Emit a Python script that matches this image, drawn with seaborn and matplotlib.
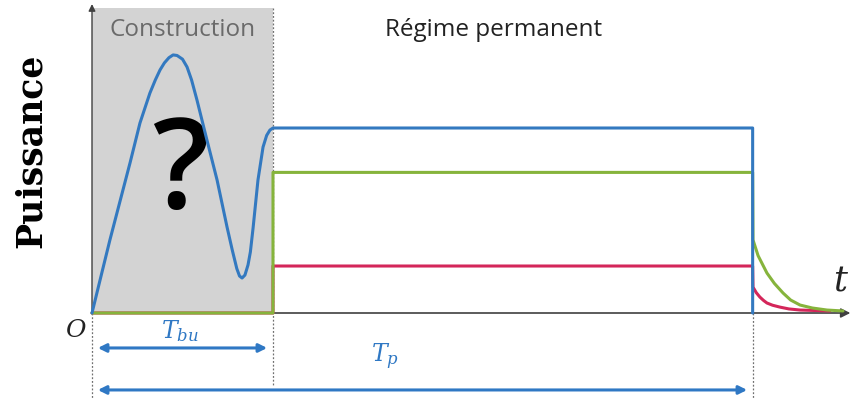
import numpy as np
import pandas as pd
import matplotlib.pyplot as plt
import seaborn as sns

# --- data (time in units of T_bu, power in units of the blue steady level) ---
T_BU = 1.0
T_P = 3.65

levels = {"bleu": 1.0, "vert": 0.76, "rouge": 0.254}
colors = {"bleu": "#3379c0", "vert": "#86b43c", "rouge": "#d4265a"}

# blue curve during build-up
build_t = [0.0, 0.05, 0.099, 0.155, 0.21, 0.265, 0.32, 0.35, 0.376, 0.40, 0.425, 0.448, 0.47,
           0.50, 0.525, 0.55, 0.58, 0.635, 0.691, 0.746, 0.775, 0.80, 0.815, 0.829, 0.845,
           0.862, 0.875, 0.89, 0.917, 0.945, 0.965, 0.983, 1.0]
build_p = [0.0, 0.20, 0.395, 0.605, 0.811, 1.027, 1.189, 1.26, 1.314, 1.352, 1.380, 1.395, 1.392,
           1.372, 1.330, 1.26, 1.151, 0.935, 0.719, 0.465, 0.34, 0.24, 0.20, 0.189, 0.205,
           0.26, 0.33, 0.46, 0.719, 0.897, 0.96, 0.989, 1.0]

# decay after T_p
vert_decay_t = [3.652, 3.68, 3.729, 3.77, 3.818, 3.86, 3.912, 3.98, 4.061, 4.149]
vert_decay_p = [0.395, 0.31, 0.216, 0.16, 0.108, 0.07, 0.043, 0.027, 0.016, 0.011]
rouge_decay_t = [3.652, 3.67, 3.69, 3.71, 3.729, 3.76, 3.80, 3.85, 3.912, 4.077]
rouge_decay_p = [0.14, 0.11, 0.086, 0.068, 0.054, 0.042, 0.032, 0.022, 0.016, 0.011]

sns.set_theme(style="white")
plt.rcParams['font.family'] = ['Open Sans', 'DejaVu Sans']
plt.rcParams['mathtext.fontset'] = 'dejavuserif'

fig = plt.figure(figsize=(8.56, 3.99), dpi=100)
ax = fig.add_axes([0, 0, 1, 1])
ax.set_xlim(-92 / 181, (856 - 92) / 181)
ax.set_ylim(-86 / 185, 313 / 185)
ax.axis("off")

top = 305 / 185

# construction area
ax.fill_between([0, T_BU], 0, top, color="#d3d3d3", zorder=0, linewidth=0)
ax.plot([T_BU, T_BU], [top, -0.389], ls=(0, (1.5, 1.5)), color="#707070", lw=0.9, zorder=1)
ax.plot([0, 0], [0, -0.465], ls=(0, (1.5, 1.5)), color="#707070", lw=0.9, zorder=1)
ax.plot([T_P, T_P], [0, -0.465], ls=(0, (1.5, 1.5)), color="#707070", lw=0.9, zorder=1)

# axes with arrows
ax.annotate("", xy=(4.205, 0), xytext=(0, 0),
            arrowprops=dict(arrowstyle="-|>", color="#404040", lw=1.2, mutation_scale=14), zorder=2)
ax.annotate("", xy=(0, 1.685), xytext=(0, 0),
            arrowprops=dict(arrowstyle="-|>", color="#404040", lw=1.0, mutation_scale=10), zorder=2)

# red and green: zero during build-up, steady level, then decay
for name, dt, dp in [("rouge", rouge_decay_t, rouge_decay_p), ("vert", vert_decay_t, vert_decay_p)]:
    df = pd.DataFrame({
        "t": [0, T_BU, T_BU, T_P] + dt,
        "p": [0, 0, levels[name], levels[name]] + dp,
    })
    sns.lineplot(data=df, x="t", y="p", sort=False, estimator=None, color=colors[name],
                 lw=2.2, ax=ax, zorder=3)

# blue: build-up curve, steady, then sudden stop
blue = pd.DataFrame({
    "t": build_t + [T_P, T_P],
    "p": build_p[:-1] + [levels["bleu"], levels["bleu"], 0],
})
sns.lineplot(data=blue, x="t", y="p", sort=False, estimator=None, color=colors["bleu"],
             lw=2.2, ax=ax, zorder=4)
for ln in ax.lines:
    ln.set_solid_joinstyle("round")
ax.set_xlabel("")
ax.set_ylabel("")

# double arrows
for y, x1 in [(-0.189, 0.983), (-0.416, 3.635)]:
    ax.annotate("", xy=(x1, y), xytext=(0.017, y),
                arrowprops=dict(arrowstyle="<|-|>", color="#2f78c4", lw=2.2, mutation_scale=12))

# texts
ax.text(0.50, 1.53, "Construction", ha="center", va="center", fontsize=17.5, color="#6a6a6a")
ax.text(2.216, 1.53, "Régime permanent", ha="center", va="center", fontsize=17.5, color="#222222")
ax.text(0.486, 0.57, "?", ha="center", va="baseline", fontsize=90, fontweight="semibold",
        color="black")
ax.text(0.486, -0.097, "$T_{bu}$", ha="center", va="center", fontsize=17, color="#2f78c4")
ax.text(1.62, -0.235, "$T_p$", ha="center", va="center", fontsize=17, color="#2f78c4")
ax.text(-0.094, -0.092, "O", ha="center", va="center", fontsize=18, style="italic",
        color="#222222", family="DejaVu Serif")
ax.text(4.133, 0.17, "t", ha="center", va="center", fontsize=25, style="italic",
        color="#222222", family="DejaVu Serif")
fig.text(0.036, 0.622, "Puissance", rotation=90, ha="center", va="center", fontsize=25,
         fontweight="bold", family="DejaVu Serif", color="black")

fig.savefig("out.png", dpi=100)
